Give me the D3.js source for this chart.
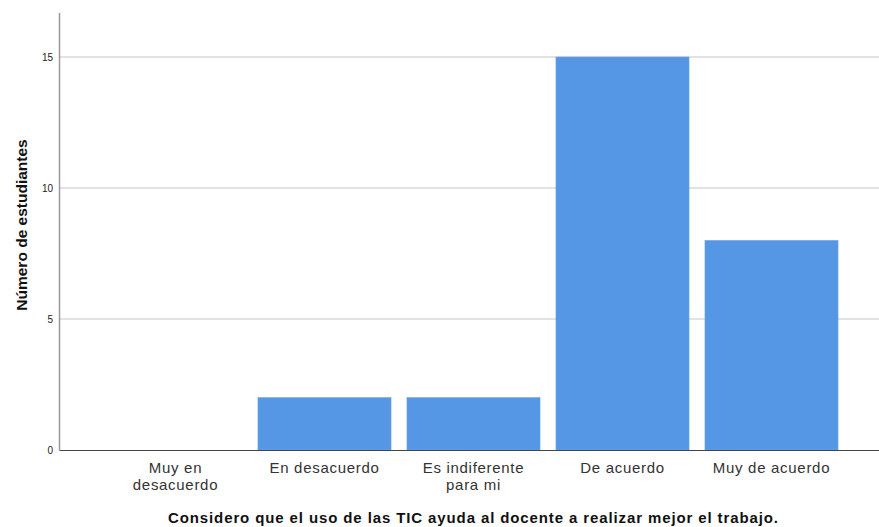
<!DOCTYPE html>
<html><head><meta charset="utf-8">
<script src="https://cdn.jsdelivr.net/npm/d3@7"></script>
<style>body{margin:0;background:#fff}svg{display:block}text{font-family:"Liberation Sans",Arial,sans-serif}</style>
</head><body>
<script>
const categories = [["Muy en","desacuerdo"],["En desacuerdo"],["Es indiferente","para mi"],["De acuerdo"],["Muy de acuerdo"]];
const values = [0, 2, 2, 15, 8];
const yTicks = [0, 5, 10, 15];
const xTitle = "Considero que el uso de las TIC ayuda al docente a realizar mejor el trabajo.";
const yTitle = "Número de estudiantes";

const W = 879, H = 527;
const svg = d3.select("body").append("svg").attr("width", W).attr("height", H);
const x = d3.scaleBand().domain(d3.range(categories.length)).range([101, 846]).paddingInner(0.107).paddingOuter(0.0535);
const y = d3.scaleLinear().domain([0, 15]).range([450, 57]);

// gridlines
svg.append("g").selectAll("line").data(yTicks.filter(d => d > 0)).join("line")
  .attr("x1", 60).attr("x2", 879).attr("y1", d => y(d)).attr("y2", d => y(d))
  .attr("stroke", "#d9d9d9").attr("stroke-width", 1.5);

// bars
svg.append("g").selectAll("rect").data(values).join("rect")
  .attr("x", (d, i) => x(i)).attr("width", x.bandwidth())
  .attr("y", d => y(d)).attr("height", d => y(0) - y(d))
  .attr("fill", "#5596e5").attr("stroke", "#6aa4ea").attr("stroke-width", 0.6);

// x axis line
svg.append("line").attr("x1", 59).attr("x2", 879).attr("y1", 450.5).attr("y2", 450.5).attr("stroke", "#444").attr("stroke-width", 1);
// y axis line
svg.append("line").attr("x1", 59.5).attr("x2", 59.5).attr("y1", 13).attr("y2", 451).attr("stroke", "#999").attr("stroke-width", 1.5);

// y tick labels
svg.append("g").selectAll("text").data(yTicks).join("text")
  .attr("x", 53).attr("y", d => y(d)).attr("dy", "0.35em").attr("text-anchor", "end")
  .attr("font-size", 10).attr("fill", "#222").text(d => d);

// x category labels
const cl = svg.append("g").selectAll("text").data(categories).join("text")
  .attr("text-anchor", "middle").attr("font-size", 15).attr("letter-spacing", 0.7).attr("fill", "#333")
  .attr("transform", (d, i) => `translate(${x(i) + x.bandwidth() / 2},473)`);
cl.selectAll("tspan").data(d => d).join("tspan").attr("x", 0).attr("dy", (d, j) => j ? 16.5 : 0).text(d => d);

// titles
svg.append("text").attr("x", 473).attr("y", 523).attr("text-anchor", "middle").attr("font-size", 15).attr("font-weight", "bold").attr("fill", "#111")
  .attr("textLength", 610).attr("lengthAdjust", "spacing").text(xTitle);
svg.append("text").attr("transform", "translate(27,225) rotate(-90)").attr("text-anchor", "middle").attr("font-size", 15.5).attr("font-weight", "bold").attr("fill", "#111").text(yTitle);
</script>
</body></html>
